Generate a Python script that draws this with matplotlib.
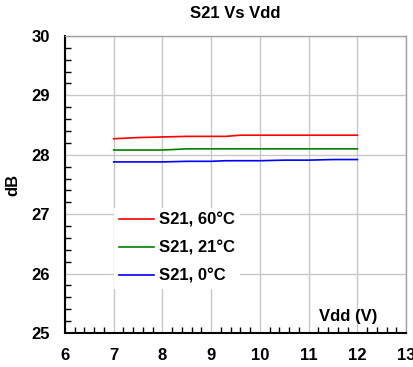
import numpy as np
import matplotlib
matplotlib.use("Agg")
import matplotlib.pyplot as plt
from matplotlib.ticker import MultipleLocator

plt.rcParams["font.family"] = ["Liberation Sans", "DejaVu Sans"]
plt.rcParams["font.weight"] = "bold"

# Vdd sweep (V) and S21 (dB) per temperature
vdd = [7, 7.5, 8, 8.5, 9, 9.3, 9.6, 10, 10.5, 11, 11.5, 12]
s21_60c = [28.27, 28.29, 28.30, 28.31, 28.31, 28.31, 28.33, 28.33, 28.33, 28.33, 28.33, 28.33]
s21_21c = [28.08, 28.08, 28.08, 28.10, 28.10, 28.10, 28.10, 28.10, 28.10, 28.10, 28.10, 28.10]
s21_0c = [27.88, 27.88, 27.88, 27.89, 27.89, 27.90, 27.90, 27.90, 27.91, 27.91, 27.92, 27.92]
labels = ["S21, 60°C", "S21, 21°C", "S21, 0°C"]
colors = ["#ff0000", "#008000", "#0000ff"]

fig = plt.figure(figsize=(4.14, 3.67), dpi=100)
ax = fig.add_axes([0.157, 0.0926, 0.824, 0.8094])

for ys, lab, c in zip([s21_60c, s21_21c, s21_0c], labels, colors):
    ax.plot(vdd, ys, color=c, lw=1.2, label=lab)

fs = 12
ax.set_xlim(6, 13)
ax.set_ylim(25, 30)
ax.xaxis.set_major_locator(MultipleLocator(1))
ax.xaxis.set_minor_locator(MultipleLocator(0.2))
ax.yaxis.set_major_locator(MultipleLocator(1))
ax.yaxis.set_minor_locator(MultipleLocator(0.2))
ax.grid(True, which="major", color="#c8c8c8", lw=1)
ax.set_axisbelow(True)
ax.tick_params(which="both", direction="in", labelsize=fs)
ax.tick_params(which="major", length=0, pad=11)
ax.tick_params(which="minor", length=4, width=1)
for side in ["left", "bottom"]:
    ax.spines[side].set_linewidth(1.5)
for side in ["right", "top"]:
    ax.spines[side].set_color("#a0a0a0")
    ax.spines[side].set_linewidth(1)

ax.set_title("S21 Vs Vdd", fontsize=fs, fontweight="bold", pad=13)
ax.set_ylabel("dB", fontsize=fs, fontweight="bold", labelpad=8)
ax.text(12.42, 25.27, "Vdd (V)", ha="right", va="center", fontsize=fs,
        fontweight="bold")

leg = ax.legend(loc="upper left", bbox_to_anchor=(0.12, 0.45), fontsize=fs,
                frameon=True, fancybox=False, framealpha=1,
                edgecolor="none", facecolor="white", handlelength=2.1,
                handletextpad=0.3, labelspacing=0.78, borderpad=0.3)

fig.savefig("out.png", dpi=100)
